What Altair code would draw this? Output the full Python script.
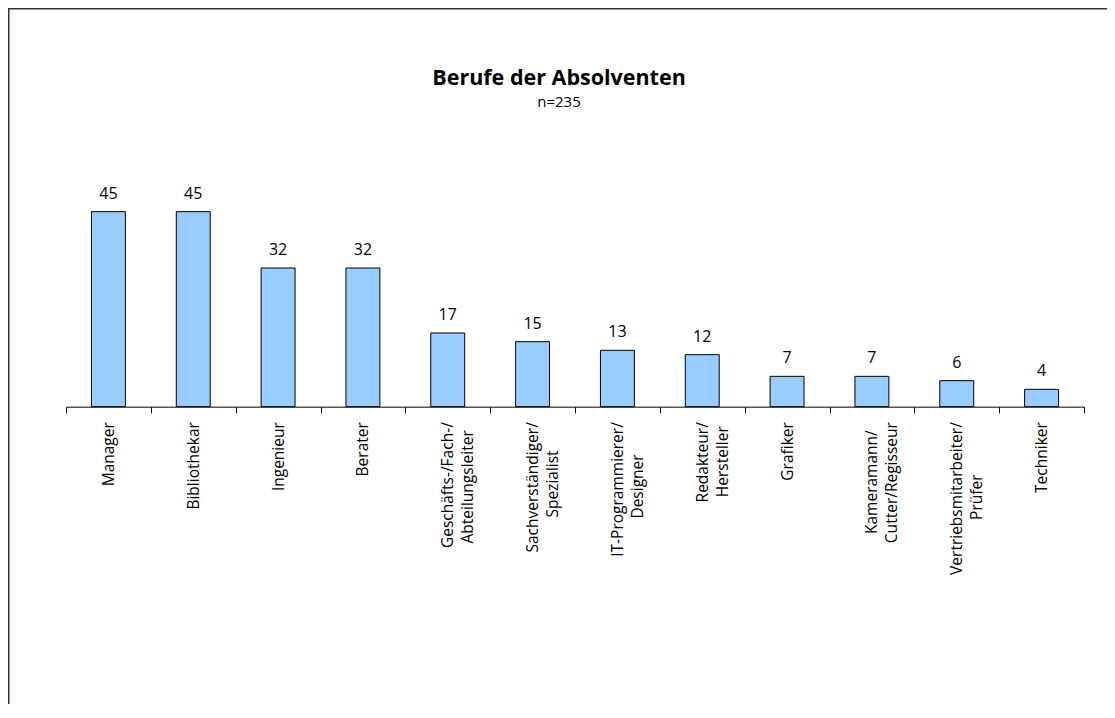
import altair as alt
import pandas as pd

categories = [
    "Manager",
    "Bibliothekar",
    "Ingenieur",
    "Berater",
    "Geschäfts-/Fach-/\nAbteilungsleiter",
    "Sachverständiger/\nSpezialist",
    "IT-Programmierer/\nDesigner",
    "Redakteur/\nHersteller",
    "Grafiker",
    "Kameramann/\nCutter/Regisseur",
    "Vertriebsmitarbeiter/\nPrüfer",
    "Techniker",
]
values = [45, 45, 32, 32, 17, 15, 13, 12, 7, 7, 6, 4]

title_text = "Berufe der Absolventen"
subtitle_text = "n=235"

FONT = "Open Sans"
LABEL_SIZE = 15.5


def est_width(s):
    """Rough text width in em, used only to centre wrapped label lines."""
    w = 0.0
    for ch in s:
        if ch in "iltfrj/-I ":
            w += 0.30
        elif ch in "mwMW":
            w += 0.85
        elif ch.isupper():
            w += 0.62
        else:
            w += 0.56
    return w


def centre_lines(label):
    lines = label.split("\n")
    if len(lines) == 1:
        return label
    widest = max(est_width(l) for l in lines)
    out = []
    for l in lines:
        n = int(round((widest - est_width(l)) / 2 / 0.26))
        # non-breaking spaces keep the shorter line centred; the zero-width
        # space stops the renderer from trimming them away
        out.append(l + "\u00a0" * n + ("\u200b" if n else ""))
    return "\n".join(out)


display = [centre_lines(c) for c in categories]

df = pd.DataFrame({"Beruf": display, "Anzahl": values})

PLOT_W = 1018
PLOT_H = 216.67
PAD_L, PAD_T = 58, 182
TOTAL_W, TOTAL_H = 1099, 696

x_enc = alt.X(
    "Beruf:N",
    sort=None,
    scale=alt.Scale(paddingInner=0, paddingOuter=0),
    axis=alt.Axis(
        title=None,
        labelAngle=270,
        labelExpr="split(datum.label, '\\n')",
        labelFont=FONT,
        labelFontSize=LABEL_SIZE,
        labelColor="black",
        labelLineHeight=20,
        labelPadding=9,
        labelLimit=300,
        tickBand="extent",
        tickSize=6,
        tickColor="black",
        domainColor="black",
        domainWidth=1,
        tickWidth=1,
        grid=False,
    ),
)
y_enc = alt.Y("Anzahl:Q", scale=alt.Scale(domain=[0, 50]), axis=None)

base = alt.Chart(df)

bars = base.mark_bar(
    fill="#99CCFF", stroke="black", strokeWidth=1, width=alt.RelativeBandSize(0.4)
).encode(x=x_enc, y=y_enc)

labels = base.mark_text(
    dy=-13, baseline="alphabetic", font=FONT, fontSize=16, color="black"
).encode(x=x_enc, y=y_enc, text="Anzahl:Q")

title_mark = alt.Chart(alt.Data(values=[{"t": title_text}])).mark_text(
    font=FONT, fontSize=21.5, fontWeight="bold", color="black", align="center",
    baseline="alphabetic"
).encode(x=alt.value(493), y=alt.value(-105), text="t:N")

subtitle_mark = alt.Chart(alt.Data(values=[{"t": subtitle_text}])).mark_text(
    font=FONT, fontSize=15, color="black", align="center", baseline="alphabetic"
).encode(x=alt.value(493), y=alt.value(-83), text="t:N")

frame = alt.Chart(alt.Data(values=[{"a": 1}])).mark_rect(
    fill="white", fillOpacity=0, stroke="#333333", strokeWidth=1.5
).encode(
    x=alt.value(-PAD_L + 0.75),
    x2=alt.value(TOTAL_W - PAD_L + 20),
    y=alt.value(-PAD_T + 0.75),
    y2=alt.value(TOTAL_H - PAD_T + 20),
)

chart = (
    alt.layer(frame, bars, labels, title_mark, subtitle_mark)
    .properties(
        width=PLOT_W,
        height=PLOT_H,
        background="white",
        autosize=alt.AutoSizeParams(type="none"),
        padding={"left": PAD_L, "top": PAD_T, "right": TOTAL_W - PAD_L - PLOT_W,
                 "bottom": TOTAL_H - PAD_T - PLOT_H},
    )
    .configure_view(strokeOpacity=0, strokeWidth=0)
)

chart.save("out.html", embed_options={"renderer": "svg", "actions": False})
